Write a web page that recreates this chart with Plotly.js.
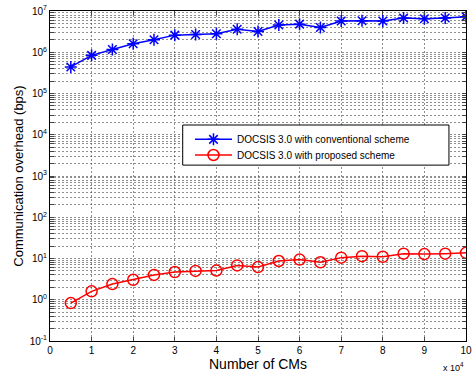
<!DOCTYPE html>
<html><head><meta charset="utf-8">
<script src="https://cdn.plot.ly/plotly-3.0.1.min.js"></script>
<style>html,body{margin:0;padding:0;background:#fff}#c{width:476px;height:374px}</style>
</head><body><div id="c"></div>
<script>
const cms = [0.5,1,1.5,2,2.5,3,3.5,4,4.5,5,5.5,6,6.5,7,7.5,8,8.5,9,9.5,10];
const conventional = [4.4e5,8.4e5,1.16e6,1.6e6,2.0e6,2.6e6,2.7e6,2.8e6,3.6e6,3.2e6,4.6e6,4.8e6,4.0e6,5.7e6,5.8e6,5.7e6,6.8e6,6.5e6,6.8e6,7.3e6];
const proposed = [0.83,1.6,2.4,3.05,4.0,4.7,5.0,5.1,6.8,6.2,8.7,9.4,8.1,10.5,11.4,11.0,13.1,12.8,13.1,13.7];
const xTicks = [0,1,2,3,4,5,6,7,8,9,10];
const decadeExps = [-1,0,1,2,3,4,5,6,7];

const yVals = [], yText = [];
decadeExps.forEach(function(e, i){
  yVals.push(Math.pow(10,e)); yText.push('10<sup>'+e+'</sup>');
  if (i < decadeExps.length-1) {
    for (let m=2;m<=9;m++){ yVals.push(m*Math.pow(10,e)); yText.push(''); }
  }
});

const traces = [
  {x: cms, y: conventional, mode:'lines+markers', name:'DOCSIS 3.0 with conventional scheme',
   legend:'legend',
   line:{color:'#0000ff', width:1.5},
   marker:{symbol:'asterisk-open', size:10, color:'#0000ff', line:{color:'#0000ff', width:1.5}}},
  {x: cms, y: proposed, mode:'lines+markers', name:'DOCSIS 3.0 with proposed scheme',
   legend:'legend2',
   line:{color:'#ff0000', width:1.5},
   marker:{symbol:'circle-open', size:11, color:'#ff0000', line:{color:'#ff0000', width:1.5}}}
];

const legendBase = {x:0.3365, xanchor:'left', yanchor:'middle', bgcolor:'rgba(0,0,0,0)',
    borderwidth:0, font:{size:10}, itemwidth:37};

const layout = {
  width:476, height:374,
  margin:{l:50, r:10, t:11, b:33},
  paper_bgcolor:'#fff', plot_bgcolor:'#fff',
  font:{family:'Liberation Sans, Arial, sans-serif', color:'#000', size:10},
  showlegend:true,
  legend:Object.assign({}, legendBase, {y:0.611}),
  legend2:Object.assign({}, legendBase, {y:0.5636}),
  shapes:[{type:'rect', xref:'paper', yref:'paper', x0:0.319, x1:0.959, y0:0.533, y1:0.6545,
    line:{color:'#000', width:1}, fillcolor:'#fff', layer:'above'}],
  xaxis:{range:[0,10], tickvals:xTicks, ticktext:xTicks.map(String), ticks:'inside', ticklen:4,
    showline:true, mirror:'allticks', linecolor:'#000', linewidth:1,
    showgrid:true, gridcolor:'#444', griddash:'2px,2px', gridwidth:0.6, zeroline:false,
    tickfont:{size:10},
    title:{text:'Number of CMs', font:{size:14}, standoff:3}},
  yaxis:{type:'log', range:[-1,7], tickvals:yVals, ticktext:yText, ticks:'inside', ticklen:4,
    showline:true, mirror:'allticks', linecolor:'#000', linewidth:1,
    showgrid:true, gridcolor:'#444', griddash:'2px,2px', gridwidth:0.6, zeroline:false,
    tickfont:{size:10},
    title:{text:'Communication overhead (bps)', font:{size:13}, standoff:3}},
  annotations:[{xref:'paper', yref:'paper', x:1, y:0, xanchor:'right', yanchor:'top', yshift:-18,
    text:'x 10<sup>4</sup>', showarrow:false, font:{size:9}}]
};
Plotly.newPlot('c', traces, layout, {displayModeBar:false, staticPlot:true});
</script></body></html>
